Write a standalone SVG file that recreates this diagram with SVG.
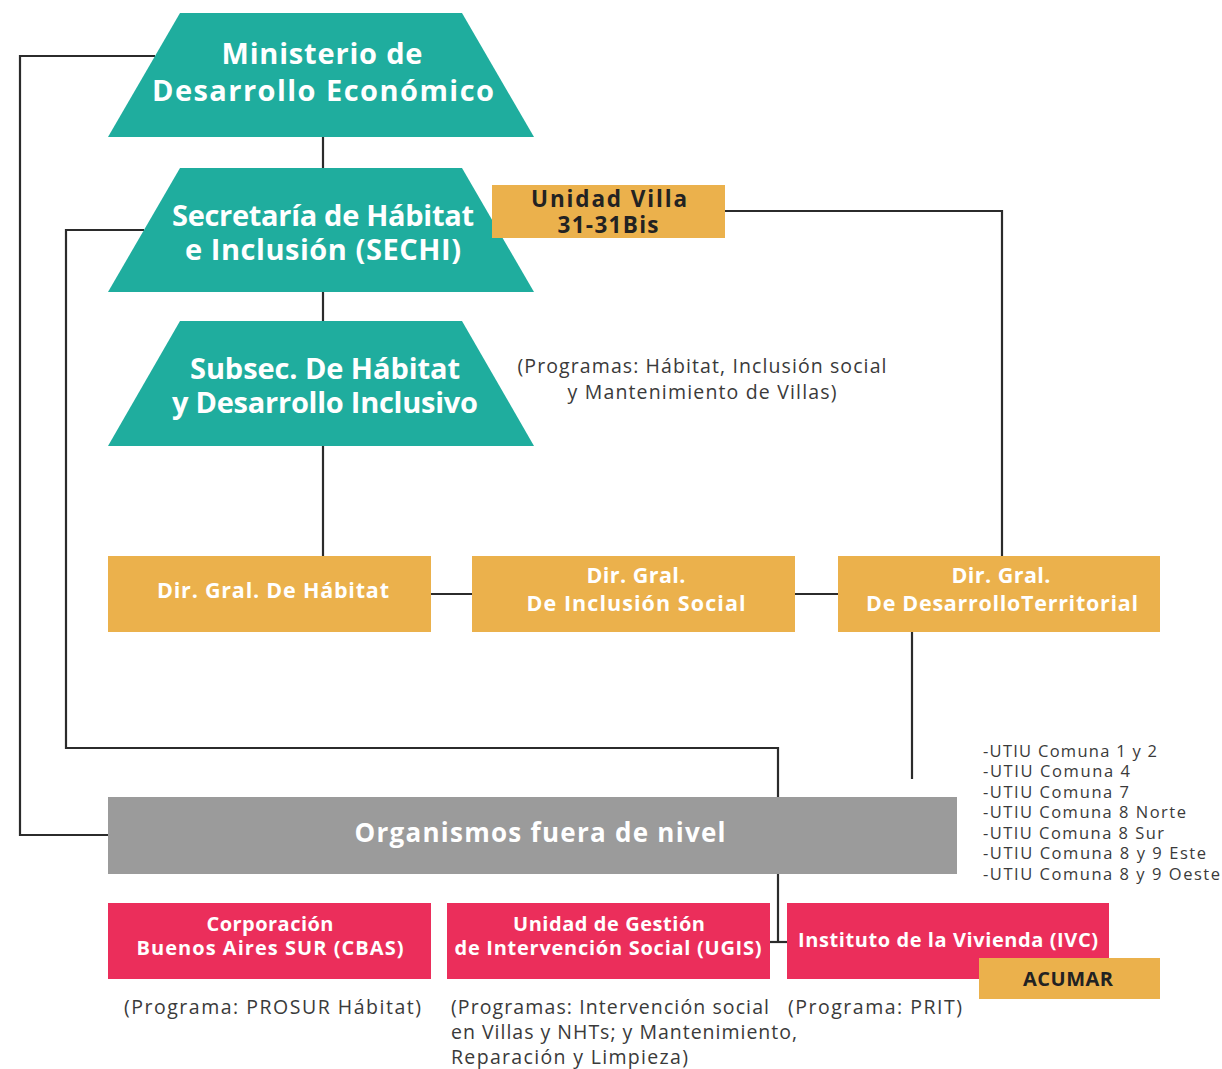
<svg xmlns="http://www.w3.org/2000/svg" width="1222" height="1069" viewBox="0 0 1222 1069">
<style>
.teal{fill:#1fad9e}
.org{fill:#ebb14c}
.pink{fill:#eb2e5b}
.gray{fill:#9b9b9b}
.ln{fill:none;stroke:#2b2b2b;stroke-width:2.2}
text{font-family:"Open Sans","Liberation Sans",sans-serif}
.tt{fill:#fff;font-weight:700;font-size:29px;text-anchor:middle}
.dt{fill:#fff;font-weight:700;font-size:21.5px;text-anchor:middle}
.ot{fill:#222;font-weight:700;font-size:22.5px;text-anchor:middle}
.pt{fill:#fff;font-weight:700;font-size:20px;text-anchor:middle}
.nt{fill:#3a3a3a;font-size:19.5px}
.ut{fill:#3a3a3a;font-size:16.5px}
</style>
<rect width="1222" height="1069" fill="#fff"/>
<g id="connectors">
<path class="ln" d="M155 56 H20 V835 H108"/>
<path class="ln" d="M144 230 H66 V748 H778 V797"/>
<path class="ln" d="M323 137 V168"/>
<path class="ln" d="M323 292 V321"/>
<path class="ln" d="M323 446 V556"/>
<path class="ln" d="M725 211 H1002 V556"/>
<path class="ln" d="M431 594 H472"/>
<path class="ln" d="M795 594 H838"/>
<path class="ln" d="M912 632 V779"/>
<path class="ln" d="M778 874 V942"/>
<path class="ln" d="M770 942 H787"/>
</g>
<g id="ministerio">
<polygon class="teal" points="180,13 462,13 534,137 108,137"/>
<text class="tt" x="322" y="64" textLength="201">Ministerio de</text>
<text class="tt" x="323" y="101" textLength="342">Desarrollo Económico</text>
</g>
<g id="secretaria">
<polygon class="teal" points="180,168 462,168 534,292 108,292"/>
<text class="tt" x="323" y="226" textLength="302">Secretaría de Hábitat</text>
<text class="tt" x="323" y="260" textLength="276">e Inclusión (SECHI)</text>
</g>
<g id="subsec">
<polygon class="teal" points="180,321 462,321 534,446 108,446"/>
<text class="tt" x="325" y="379" textLength="270">Subsec. De Hábitat</text>
<text class="tt" x="325" y="413" textLength="306">y Desarrollo Inclusivo</text>
</g>
<g id="unidad-villa">
<rect class="org" x="492" y="185" width="233" height="53"/>
<text class="ot" x="609" y="207" textLength="156">Unidad Villa</text>
<text class="ot" x="608" y="233" textLength="101">31-31Bis</text>
</g>
<g id="programas-subsec">
<text class="nt" x="702" y="373" text-anchor="middle" textLength="369">(Programas: Hábitat, Inclusión social</text>
<text class="nt" x="702" y="399" text-anchor="middle" textLength="269">y Mantenimiento de Villas)</text>
</g>
<g id="dir-habitat">
<rect class="org" x="108" y="556" width="323" height="76"/>
<text class="dt" x="273" y="598" textLength="232">Dir. Gral. De Hábitat</text>
</g>
<g id="dir-inclusion">
<rect class="org" x="472" y="556" width="323" height="76"/>
<text class="dt" x="636" y="583" textLength="99">Dir. Gral.</text>
<text class="dt" x="636" y="611" textLength="219">De Inclusión Social</text>
</g>
<g id="dir-territorial">
<rect class="org" x="838" y="556" width="322" height="76"/>
<text class="dt" x="1001" y="583" textLength="99">Dir. Gral.</text>
<text class="dt" x="1002" y="611" textLength="272">De DesarrolloTerritorial</text>
</g>
<g id="utiu">
<text class="ut" x="983" y="757" textLength="174">-UTIU Comuna 1 y 2</text>
<text class="ut" x="983" y="777" textLength="147">-UTIU Comuna 4</text>
<text class="ut" x="983" y="798" textLength="146">-UTIU Comuna 7</text>
<text class="ut" x="983" y="818" textLength="203">-UTIU Comuna 8 Norte</text>
<text class="ut" x="983" y="839" textLength="181">-UTIU Comuna 8 Sur</text>
<text class="ut" x="983" y="859" textLength="223">-UTIU Comuna 8 y 9 Este</text>
<text class="ut" x="983" y="880" textLength="237">-UTIU Comuna 8 y 9 Oeste</text>
</g>
<g id="organismos">
<rect class="gray" x="108" y="797" width="849" height="77"/>
<text x="540" y="842" fill="#fff" font-weight="700" font-size="26" text-anchor="middle" textLength="371">Organismos fuera de nivel</text>
</g>
<g id="cbas">
<rect class="pink" x="108" y="903" width="323" height="76"/>
<text class="pt" x="270" y="931" textLength="127">Corporación</text>
<text class="pt" x="270" y="955" textLength="267">Buenos Aires SUR (CBAS)</text>
</g>
<g id="ugis">
<rect class="pink" x="447" y="903" width="323" height="76"/>
<text class="pt" x="609" y="931" textLength="192">Unidad de Gestión</text>
<text class="pt" x="608" y="955" textLength="307">de Intervención Social (UGIS)</text>
</g>
<g id="ivc">
<rect class="pink" x="787" y="903" width="322" height="76"/>
<text class="pt" x="948" y="947" textLength="300">Instituto de la Vivienda (IVC)</text>
</g>
<g id="acumar">
<rect class="org" x="979" y="958" width="181" height="41"/>
<text x="1068" y="986" fill="#222" font-weight="700" font-size="20" text-anchor="middle" textLength="90">ACUMAR</text>
</g>
<g id="notas">
<text class="nt" x="124" y="1014" textLength="297">(Programa: PROSUR Hábitat)</text>
<text class="nt" x="451" y="1014" textLength="318">(Programas: Intervención social</text>
<text class="nt" x="451" y="1039" textLength="346">en Villas y NHTs; y Mantenimiento,</text>
<text class="nt" x="451" y="1064" textLength="237">Reparación y Limpieza)</text>
<text class="nt" x="788" y="1014" textLength="174">(Programa: PRIT)</text>
</g>
</svg>
